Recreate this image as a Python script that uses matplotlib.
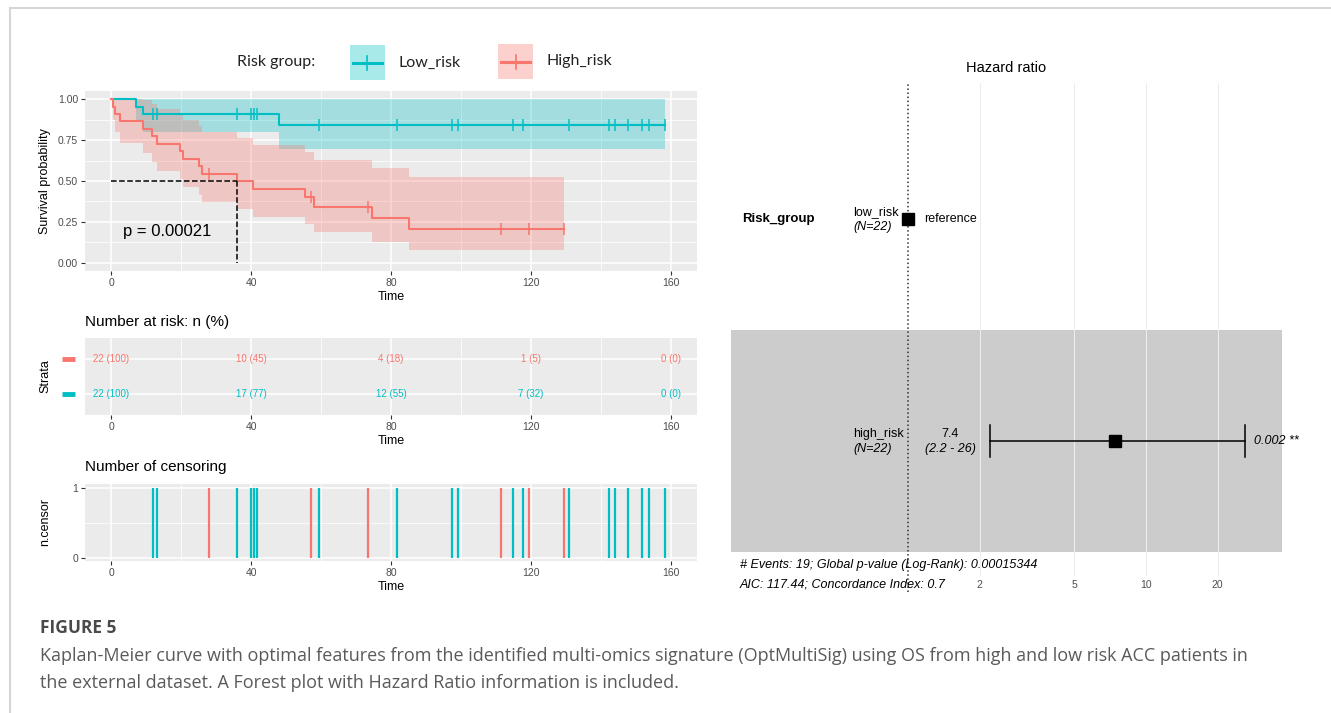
import numpy as np
import matplotlib
matplotlib.use("Agg")
import matplotlib.pyplot as plt
import matplotlib.transforms as mtransforms
from matplotlib.lines import Line2D
from matplotlib.patches import Rectangle
from matplotlib.ticker import NullLocator

plt.rcParams['font.family'] = ['Liberation Sans', 'DejaVu Sans']

# ---- KM data ----
# low risk (teal)
low_time = [0, 7, 9, 48, 158.4]
low_surv = [1.0, 0.955, 0.909, 0.844, 0.844]
low_lower = [1.0, 0.871, 0.797, 0.694, 0.694]
low_upper = [1.0, 1.0, 1.0, 1.0, 1.0]
low_cens = [12.1, 13.0, 35.9, 40.1, 40.9, 41.6, 59.4, 81.7, 97.5, 99.2, 114.9,
            117.6, 130.9, 142.4, 144.1, 147.6, 151.6, 153.8, 158.4]

# high risk (red)
high_time = [0, 0.5, 1, 2.5, 9.2, 11.6, 13, 19.7, 20.7, 25, 25.9, 36.1, 40.5,
             55.4, 58, 74.5, 85.2, 129.4]
high_surv = [1.0, 0.955, 0.909, 0.864, 0.818, 0.773, 0.727, 0.682, 0.636, 0.591,
             0.545, 0.5, 0.45, 0.4, 0.343, 0.274, 0.206, 0.206]
high_lower = [1.0, 0.871, 0.797, 0.731, 0.672, 0.616, 0.563, 0.513, 0.464, 0.417,
              0.372, 0.327, 0.281, 0.236, 0.187, 0.130, 0.081, 0.081]
high_upper = [1.0, 1.0, 1.0, 1.0, 0.997, 0.969, 0.940, 0.907, 0.873, 0.837,
              0.799, 0.765, 0.722, 0.677, 0.629, 0.580, 0.526, 0.526]
high_cens = [28.0, 57.2, 73.4, 111.3, 119.4, 129.4]

median_high = 36.1
pval_text = "p = 0.00021"

# number at risk
risk_times = [0, 40, 80, 120, 160]
risk_high_n = [22, 10, 4, 1, 0]
risk_high_pct = [100, 45, 18, 5, 0]
risk_low_n = [22, 17, 12, 7, 0]
risk_low_pct = [100, 77, 55, 32, 0]

# forest plot
hr_levels = ["low_risk", "high_risk"]
hr_n = [22, 22]
hr_est = [1.0, 7.4]
hr_lo = [None, 2.2]
hr_hi = [None, 26]
hr_pval = [None, "0.002 **"]
hr_ticks = [2, 5, 10, 20]
forest_note1 = "# Events: 19; Global p-value (Log-Rank): 0.00015344"
forest_note2 = "AIC: 117.44; Concordance Index: 0.7"

RED = '#F8766D'
TEAL = '#00BFC4'

W, H = 1331, 713
fig = plt.figure(figsize=(W / 100, H / 100), dpi=100)


def box(l, t, r, b):
    return [l / W, 1 - b / H, (r - l) / W, (b - t) / H]


def ftext(x, y, s, **kw):
    kw.setdefault('va', 'center')
    fig.text(x / W, 1 - y / H, s, **kw)


def gg_panel(ax):
    ax.set_facecolor('#EBEBEB')
    for sp in ax.spines.values():
        sp.set_visible(False)
    ax.grid(True, which='major', color='white', lw=1.1)
    ax.grid(True, which='minor', color='white', lw=0.55)
    ax.set_axisbelow(True)
    ax.tick_params(which='major', length=3, width=0.8, color='#333333',
                   labelsize=7.5, labelcolor='#4D4D4D', pad=2)
    ax.tick_params(which='minor', length=0)
    ax.set_xlim(-7.43, 167.43)
    ax.set_xticks(risk_times)
    ax.set_xticks([20, 60, 100, 140], minor=True)
    ax.set_xlabel("Time", fontsize=9, labelpad=2)


def surv_at(times, surv, t):
    i = np.searchsorted(times, t, side='right') - 1
    return surv[i]


# page frame
fig.add_artist(Line2D([10 / W, 1], [1 - 8 / H, 1 - 8 / H], color='#D5D5D5', lw=1.5))
fig.add_artist(Line2D([10 / W, 10 / W], [0, 1 - 8 / H], color='#D5D5D5', lw=1.5))

# ---- legend ----
ftext(237, 62, "Risk group:", fontsize=11.5, family=['Lato', 'DejaVu Sans'], color='#222222')
for (l, r, t, b), col, name in [((350, 385, 45, 80), TEAL, "Low_risk"),
                                 ((498, 533, 44, 79), RED, "High_risk")]:
    fig.add_artist(Rectangle((l / W, 1 - b / H), (r - l) / W, (b - t) / H,
                             transform=fig.transFigure, facecolor=col, alpha=0.34, lw=0))
    yc = 1 - (t + b) / 2 / H
    fig.add_artist(Line2D([(l + 3) / W, (r - 3) / W], [yc, yc], color=col, lw=2.2))
    fig.add_artist(Line2D([(l + r) / 2 / W] * 2, [yc - 7 / H, yc + 7 / H], color=col, lw=1.2))
    ftext(r + 13, (t + b) / 2, name, fontsize=11.5, family=['Lato', 'DejaVu Sans'], color='#222222')

# ---- KM curve ----
ax = fig.add_axes(box(85, 91, 697, 271))
gg_panel(ax)
ax.set_ylim(-0.05, 1.05)
ax.set_yticks([0, 0.25, 0.5, 0.75, 1.0])
ax.set_yticklabels(["0.00", "0.25", "0.50", "0.75", "1.00"])
ax.set_yticks([0.125, 0.375, 0.625, 0.875], minor=True)

for t, s, lo, hi, cens, col in [(low_time, low_surv, low_lower, low_upper, low_cens, TEAL),
                                (high_time, high_surv, high_lower, high_upper, high_cens, RED)]:
    ax.fill_between(t, lo, hi, step='post', color=col, alpha=0.3, lw=0)
    ax.step(t, s, where='post', color=col, lw=1.5)
    cy = [surv_at(t, s, c) for c in cens]
    ax.plot(cens, cy, ls='none', marker='|', ms=8, mew=1.1, color=col)

ax.plot([0, median_high], [0.5, 0.5], ls='--', color='black', lw=1.1)
ax.plot([median_high, median_high], [0.5, 0], ls='--', color='black', lw=1.1)
ax.text(3.5, 0.19, pval_text, fontsize=12, va='center', ha='left')
ftext(45, 181, "Survival probability", rotation=90, fontsize=9, ha='center')

# ---- number at risk ----
ftext(85, 322, "Number at risk: n (%)", fontsize=11)
axr = fig.add_axes(box(85, 338, 697, 415))
gg_panel(axr)
axr.set_ylim(0.4, 2.6)
axr.set_yticks([1, 2])
axr.set_yticklabels(["", ""])
axr.tick_params(axis='y', length=0)
for x, n, p in zip(risk_times, risk_high_n, risk_high_pct):
    axr.text(x, 2, f"{n} ({p})", color=RED, fontsize=7, ha='center', va='center')
for x, n, p in zip(risk_times, risk_low_n, risk_low_pct):
    axr.text(x, 1, f"{n} ({p})", color=TEAL, fontsize=7, ha='center', va='center')
trr = mtransforms.blended_transform_factory(axr.transAxes, axr.transData)
for yv, col in [(2, RED), (1, TEAL)]:
    axr.add_line(Line2D([-0.0376, -0.0163], [yv, yv], transform=trr, color=col,
                        lw=3.5, clip_on=False, solid_capstyle='butt'))
ftext(45, 376, "Strata", rotation=90, fontsize=9, ha='center')

# ---- number of censoring ----
ftext(85, 467, "Number of censoring", fontsize=11)
axc = fig.add_axes(box(85, 484, 697, 561))
gg_panel(axc)
axc.set_ylim(-0.05, 1.05)
axc.set_yticks([0, 1])
axc.set_yticks([0.5], minor=True)
axc.vlines(low_cens, 0, 1, color=TEAL, lw=1.6)
axc.vlines(high_cens, 0, 1, color=RED, lw=1.6)
ftext(45, 522, "n.censor", rotation=90, fontsize=9, ha='center')

# ---- forest plot ----
axf = fig.add_axes(box(731, 83, 1282, 576))
axf.set_xscale('log')
axf.set_xlim(0.1804, 37.27)
axf.set_ylim(0.392, 2.613)
for sp in axf.spines.values():
    sp.set_visible(False)
axf.axhspan(0.5, 1.5, color='#CCCCCC', lw=0, zorder=0)
for v in hr_ticks:
    axf.axvline(v, color='#EDEDED', lw=0.8, zorder=1)
axf.axvline(1, ymin=-0.033, ymax=1, ls=':', color='#333333', lw=1.1, clip_on=False, zorder=2)
axf.set_xticks(hr_ticks)
axf.set_xticklabels([str(v) for v in hr_ticks])
axf.xaxis.set_minor_locator(NullLocator())
axf.set_yticks([])
axf.tick_params(axis='x', length=0, labelsize=7.5, labelcolor='#4D4D4D', pad=3)
axf.set_title("Hazard ratio", fontsize=10.5, pad=8)

trf = mtransforms.blended_transform_factory(axf.transAxes, axf.transData)


def fx(px):
    return (px - 731) / 551


axf.text(fx(742), 2, "Risk_group", transform=trf, fontsize=9.5, weight='bold', va='center')
for i, lvl in enumerate(hr_levels):
    yrow = 2 - i
    axf.text(fx(853), yrow + 0.03, lvl, transform=trf, fontsize=9, va='center')
    axf.text(fx(853), yrow - 0.035, f"(N={hr_n[i]})", transform=trf, fontsize=9,
             style='italic', va='center')
    axf.plot([hr_est[i]], [yrow], marker='s', ms=8.5, color='black', zorder=4)
    if hr_lo[i] is None:
        axf.text(fx(924), yrow, "reference", transform=trf, fontsize=9, va='center')
    else:
        axf.text(fx(950), yrow + 0.03, f"{hr_est[i]}", transform=trf, fontsize=9,
                 ha='center', va='center')
        axf.text(fx(950), yrow - 0.035, f"({hr_lo[i]} - {hr_hi[i]})", transform=trf,
                 fontsize=9, style='italic', ha='center', va='center')
        axf.plot([hr_lo[i], hr_hi[i]], [yrow, yrow], color='black', lw=1.1, zorder=3)
        for e in (hr_lo[i], hr_hi[i]):
            axf.plot([e, e], [yrow - 0.072, yrow + 0.072], color='black', lw=1.1, zorder=3)
        axf.text(fx(1254), yrow, hr_pval[i], transform=trf, fontsize=9,
                 style='italic', va='center')
axf.text(fx(740), 1 - 124 / 222, forest_note1, transform=trf, fontsize=9,
         style='italic', va='center')
axf.text(fx(740), 1 - 143 / 222, forest_note2, transform=trf, fontsize=9,
         style='italic', va='center')

# ---- caption ----
cap = ['Open Sans', 'DejaVu Sans']
ftext(40, 628, "FIGURE 5", fontsize=12.5, weight='bold', family=cap, color='#4A4A4A')
ftext(40, 656, "Kaplan-Meier curve with optimal features from the identified multi-omics "
      "signature (OptMultiSig) using OS from high and low risk ACC patients in",
      fontsize=13, family=cap, color='#5A5A5A')
ftext(40, 683, "the external dataset. A Forest plot with Hazard Ratio information is included.",
      fontsize=13, family=cap, color='#5A5A5A')

fig.savefig("out.png", dpi=100)
